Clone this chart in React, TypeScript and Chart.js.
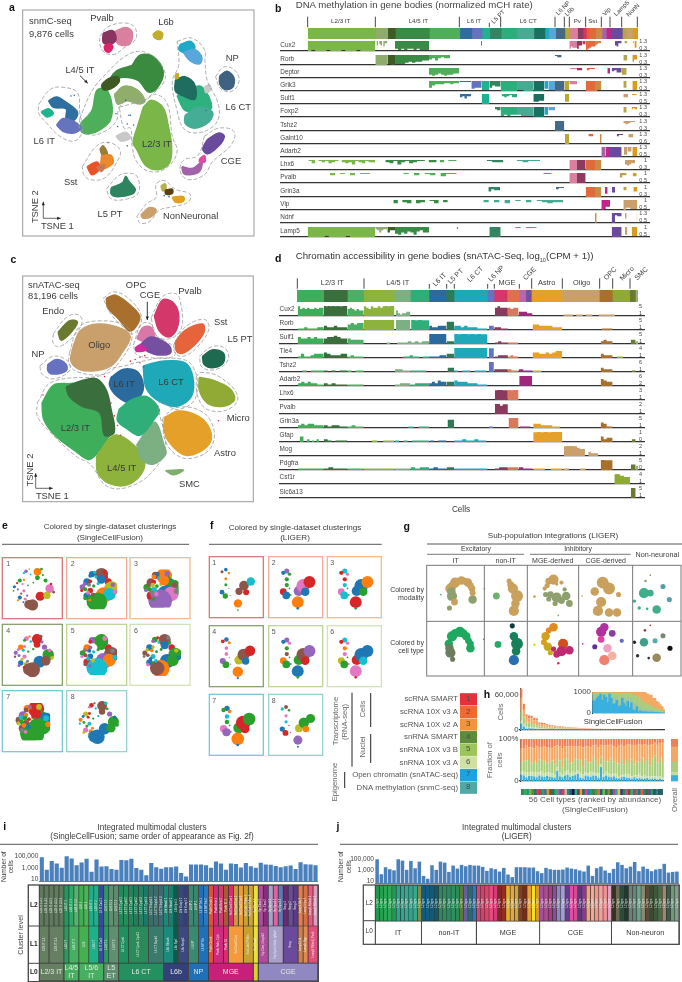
import React, { useEffect, useRef } from "react";
import { Chart, registerables } from "chart.js";
Chart.register(...registerables);
Chart.defaults.font.family = "Liberation Sans";
Chart.defaults.plugins.legend.display = false;
Chart.defaults.plugins.tooltip.enabled = false;

const FONT = "Liberation Sans";
type P = { l: number; t: number; w: number; h: number; cfg: any };
const plots: P[] = [];
const texts: any[] = [];
const lines: any[] = [];
const rects: any[] = [];
const base = { animation: false, responsive: false, devicePixelRatio: 1, events: [] as string[] };
const T = (s: any, x: number, y: number, size = 6.5, align = "c", rot = 0, color = "#3a3a3a", weight = 400) => texts.push({ s, x, y, size, align, rot, color, weight });
const L = (x1: number, y1: number, x2: number, y2: number, color = "#444", w = 1) => lines.push({ x1, y1, x2, y2, color, w });
const R = (x: number, y: number, w: number, h: number, color: string, sw = 1) => rects.push({ x, y, w, h, color, sw });
const fitY = (W: number) => (s: any) => { s.width = W; s.paddingTop = 0; s.paddingBottom = 0; };

/* ---------- panel a ---------- */
const blobsA: [string, number[][]][] = [
  ["#7ab648", [[430, 320], [455, 298], [492, 322], [508, 380], [518, 440], [512, 492], [480, 514], [438, 502], [410, 452], [398, 430], [412, 380]]],
  ["#4fae5a", [[235, 370], [270, 330], [285, 268], [312, 263], [332, 310], [327, 360], [300, 387], [265, 402], [238, 397]]],
  ["#3a8a3f", [[395, 190], [420, 158], [462, 163], [492, 210], [472, 262], [445, 272], [415, 237], [370, 227], [340, 234], [320, 247], [345, 208]]],
  ["#3e5a22", [[300, 250], [320, 232], [350, 225], [355, 240], [330, 262], [305, 265]]],
  ["#8fae6b", [[340, 280], [370, 255], [410, 265], [435, 300], [420, 310], [380, 300], [350, 310]]],
  ["#2f6f9f", [[135, 300], [160, 288], [190, 305], [225, 335], [215, 360], [190, 355], [190, 325], [150, 320]]],
  ["#1fb48f", [[112, 335], [135, 325], [150, 340], [130, 350]]],
  ["#6673bd", [[160, 375], [180, 355], [215, 365], [235, 385], [215, 400], [180, 395]]],
  ["#d9809f", [[340, 85], [375, 72], [395, 85], [390, 120], [365, 128], [345, 115]]],
  ["#8a3560", [[305, 90], [335, 82], [345, 110], [325, 125], [305, 118]]],
  ["#e0246a", [[308, 130], [325, 122], [335, 132], [325, 148], [312, 145]]],
  ["#c2ae2c", [[460, 92], [475, 83], [490, 90], [485, 108], [465, 104]]],
  ["#3e627f", [[668, 222], [690, 208], [712, 228], [708, 258], [685, 265], [668, 248]]],
  ["#1fa8c8", [[545, 125], [575, 115], [590, 130], [585, 145], [560, 150], [540, 140]]],
  ["#58a7db", [[555, 150], [590, 140], [612, 165], [605, 185], [575, 175]]],
  ["#2fb07f", [[535, 285], [580, 260], [610, 255], [635, 290], [640, 325], [590, 330], [560, 330]]],
  ["#1e6d5f", [[530, 235], [560, 225], [590, 250], [590, 295], [555, 285], [530, 270]]],
  ["#45ad96", [[560, 345], [600, 320], [645, 335], [635, 365], [590, 385], [560, 370]]],
  ["#c2ae2c", [[530, 218], [538, 215], [538, 230], [530, 230]]],
  ["#c8c8c8", [[620, 258], [635, 250], [640, 265], [625, 275]]],
  ["#6a4a9c", [[630, 420], [665, 400], [682, 410], [665, 440], [630, 465], [615, 450]]],
  ["#a263a8", [[550, 505], [585, 510], [612, 490], [605, 520], [575, 530], [555, 525]]],
  ["#e04aa0", [[605, 480], [620, 470], [622, 490], [605, 490]]],
  ["#9a7c3a", [[295, 450], [305, 440], [318, 465], [305, 475]]],
  ["#ea8a2c", [[300, 470], [330, 470], [335, 495], [300, 510]]],
  ["#e8532a", [[255, 505], [285, 490], [295, 510], [270, 530]]],
  ["#c87a55", [[285, 505], [310, 500], [300, 520]]],
  ["#2f8460", [[330, 570], [365, 555], [375, 535], [385, 550], [405, 575], [395, 590], [350, 598], [330, 590]]],
  ["#b8b048", [[485, 565], [498, 558], [500, 575], [490, 580]]],
  ["#5a4010", [[498, 578], [520, 575], [520, 588], [500, 590]]],
  ["#e0a020", [[520, 600], [555, 598], [555, 612], [530, 615]]],
  ["#c9a06c", [[422, 655], [450, 632], [470, 640], [455, 660], [430, 665]]],
  ["#c8c8c8", [[345, 410], [375, 398], [390, 415], [360, 425]]],
];
const hullsA: number[][][] = [
  [[295, 100], [320, 70], [375, 58], [405, 75], [405, 110], [370, 135], [340, 155], [310, 150], [295, 125]],
  [[232, 355], [270, 270], [310, 220], [385, 155], [440, 150], [490, 195], [495, 240], [445, 290], [430, 300], [390, 295], [355, 320], [345, 365], [300, 400], [260, 405], [232, 385]],
  [[355, 320], [440, 295], [470, 280], [505, 310], [520, 410], [535, 460], [500, 510], [450, 520], [410, 490], [395, 440], [390, 385], [370, 385]],
  [[105, 310], [140, 265], [180, 258], [225, 275], [232, 335], [240, 395], [215, 425], [170, 410], [130, 370], [105, 340]],
  [[535, 115], [580, 105], [620, 140], [622, 180], [630, 240], [660, 300], [665, 350], [640, 385], [590, 400], [555, 385], [535, 330], [520, 240], [540, 190]],
  [[655, 225], [680, 195], [715, 205], [728, 240], [705, 270], [670, 262]],
  [[620, 410], [665, 385], [712, 395], [705, 435], [645, 490], [620, 530], [570, 545], [545, 520], [555, 485], [600, 470]],
  [[240, 505], [285, 440], [325, 430], [358, 455], [345, 495], [310, 540], [265, 545], [245, 530]],
  [[315, 575], [350, 535], [380, 525], [410, 535], [415, 585], [380, 605], [330, 605]],
  [[410, 660], [440, 620], [470, 600], [470, 560], [495, 548], [530, 575], [575, 590], [570, 615], [520, 630], [480, 640], [450, 675], [420, 680]],
];
const specksA = [[205, 285], [215, 283], [375, 298], [385, 345], [380, 372], [400, 375], [350, 380], [390, 345], [345, 340], [320, 430], [380, 440], [495, 595], [510, 598], [625, 330]];

/* ---------- panel c ---------- */
const blobsC: [string, number[][]][] = [
  ["#c9a06c", [[210, 320], [235, 265], [290, 245], [365, 260], [390, 285], [360, 340], [330, 375], [280, 390], [230, 385], [205, 360]]],
  ["#a8702c", [[315, 165], [345, 155], [400, 195], [420, 225], [400, 262], [385, 265], [350, 225], [320, 195]]],
  ["#6a7a30", [[165, 270], [200, 235], [225, 238], [210, 265], [175, 295]]],
  ["#6672c0", [[133, 370], [160, 355], [190, 370], [190, 390], [150, 400], [133, 390]]],
  ["#d4386a", [[465, 220], [490, 170], [520, 175], [540, 210], [535, 260], [510, 285], [480, 265]]],
  ["#e5643c", [[530, 300], [560, 265], [615, 245], [620, 270], [590, 310], [555, 335], [535, 330]]],
  ["#d877a8", [[410, 290], [430, 255], [455, 255], [465, 290], [435, 300]]],
  ["#7550a0", [[420, 310], [455, 285], [510, 310], [515, 335], [470, 340], [435, 325]]],
  ["#d42aa0", [[405, 320], [420, 310], [440, 325], [410, 330]]],
  ["#1e6a50", [[615, 345], [645, 325], [680, 335], [680, 365], [650, 380], [620, 370]]],
  ["#90ab35", [[605, 410], [650, 420], [700, 445], [715, 480], [680, 500], [630, 490], [605, 450]]],
  ["#e5a029", [[497, 535], [540, 515], [600, 530], [635, 565], [640, 610], [600, 645], [555, 650], [510, 610], [495, 570]]],
  ["#7caf6a", [[500, 700], [555, 698], [525, 713]]],
  ["#1fa9b8", [[430, 375], [490, 360], [560, 365], [585, 410], [580, 470], [535, 500], [480, 485], [440, 445]]],
  ["#3fae5a", [[115, 490], [150, 435], [200, 430], [240, 430], [300, 480], [340, 560], [320, 600], [265, 665], [220, 640], [155, 590], [120, 540]]],
  ["#3a6e3c", [[190, 440], [240, 420], [285, 415], [315, 450], [330, 510], [340, 580], [310, 590], [295, 520], [240, 500], [200, 470]]],
  ["#2b6a9c", [[330, 410], [370, 385], [415, 395], [430, 450], [395, 490], [350, 470], [325, 435]]],
  ["#8db33c", [[285, 655], [340, 590], [400, 620], [435, 680], [400, 735], [340, 745], [290, 710]]],
  ["#7caf82", [[410, 620], [465, 550], [495, 620], [500, 650], [460, 680], [425, 665]]],
  ["#2fae7a", [[355, 510], [395, 480], [440, 470], [480, 510], [465, 540], [420, 590], [380, 570], [350, 545]]],
];
const hullsC: number[][][] = [
  [[150, 275], [190, 225], [225, 215], [240, 235], [220, 275], [170, 315], [150, 305]],
  [[305, 165], [340, 145], [390, 170], [425, 225], [400, 275], [370, 255], [330, 215]],
  [[200, 335], [230, 255], [290, 235], [375, 250], [395, 290], [350, 370], [310, 400], [230, 395], [200, 370]],
  [[108, 375], [150, 345], [195, 360], [200, 390], [150, 415], [115, 400]],
  [[400, 310], [425, 245], [455, 245], [475, 285], [525, 315], [525, 345], [460, 350], [410, 340]],
  [[455, 225], [490, 160], [530, 150], [545, 170], [550, 255], [515, 290], [470, 280]],
  [[525, 310], [560, 255], [620, 230], [635, 260], [595, 320], [555, 345], [530, 335]],
  [[605, 345], [645, 315], [685, 320], [695, 355], [660, 385], [615, 380]],
  [[595, 410], [610, 395], [670, 410], [725, 470], [695, 510], [630, 510], [600, 470]],
  [[490, 540], [530, 505], [610, 515], [650, 570], [640, 630], [590, 660], [540, 655], [500, 610]],
  [[100, 490], [145, 425], [300, 405], [325, 385], [370, 375], [430, 360], [500, 350], [580, 370], [595, 470], [540, 510], [480, 490], [500, 620], [470, 690], [400, 745], [320, 750], [265, 680], [220, 655], [130, 570], [100, 530]],
];
const specksC = [[405, 355], [420, 348], [435, 343], [390, 360], [310, 408], [118, 465], [420, 365], [432, 378], [665, 545], [340, 530], [350, 560], [360, 590], [330, 490]];

function blobChart(l: number, t: number, w: number, h: number, xr: number[], yr: number[], blobs: any[], hulls: number[][][], specks: number[][], speckColor: string) {
  const close = (p: number[][]) => [...p, p[0]].map(([x, y]) => ({ x, y }));
  const ds: any[] = [];
  blobs.forEach(([c, p]: any) => ds.push({ data: close(p), fill: "shape", backgroundColor: c, borderColor: c, borderWidth: 1.5, tension: 0.35, pointRadius: 0 }));
  ds.push({ data: specks.map(([x, y]) => ({ x, y })), showLine: false, pointRadius: 0.8, pointBackgroundColor: speckColor, pointBorderWidth: 0 });
  hulls.forEach((p) => ds.push({ data: close(p), fill: false, borderColor: "#9a9a9a", borderWidth: 0.8, borderDash: [4, 2], tension: 0.4, pointRadius: 0 }));
  plots.push({ l, t, w, h, cfg: { type: "line", data: { datasets: ds.reverse() }, options: { ...base, layout: { padding: 0 }, scales: { x: { type: "linear", min: xr[0], max: xr[1], display: false }, y: { type: "linear", min: yr[0], max: yr[1], reverse: true, display: false } } } } });
}
blobChart(23, 10, 231, 226, [68, 762], [30, 708], blobsA, hullsA, specksA, "#2f6f9f");
R(22.7, 10, 231.3, 226, "#9a9a9a", 1);
blobChart(23, 276, 230, 226, [68, 760], [108, 785], blobsC, hullsC, specksC, "#d8304a");
R(22.7, 276, 230.6, 225.7, "#9a9a9a", 1);

/* ---------- strips & tracks ---------- */
const stripB: [number, number, string][] = [
  [113, 316, "#7ab648"], [316, 352, "#8fac6e"], [352, 375, "#3f5b24"], [375, 477, "#388a45"], [477, 568, "#4fae57"], [568, 604, "#2f6d9e"], [604, 635, "#6473bb"], [635, 658, "#1fb28f"], [658, 692, "#358461"], [692, 741, "#2bae7c"], [741, 790, "#46ab92"], [790, 823, "#1c6e60"], [823, 835, "#1fa8c4"], [835, 855, "#57a7d8"], [855, 883, "#446a85"], [883, 898, "#b8a832"], [898, 921, "#d97fa0"], [921, 937, "#8d3a60"], [937, 947, "#d6336c"], [947, 955, "#f05a30"], [955, 975, "#e06a3c"], [975, 994, "#c98c46"], [994, 1007, "#a263a8"], [1007, 1020, "#c2258a"], [1020, 1055, "#6a4a9c"], [1055, 1067, "#b8a24a"], [1067, 1085, "#c9a06c"], [1085, 1102, "#d99a20"],
];
const stripD: [number, number, string][] = [
  [82, 162, "#3fae5a"], [162, 233, "#3a6e3c"], [233, 282, "#4bb063"], [282, 374, "#8db33c"], [374, 422, "#7caf82"], [422, 478, "#2fae7a"], [478, 530, "#2b6a9c"], [530, 553, "#2e7a55"], [553, 653, "#1fa9b8"], [653, 673, "#6672c0"], [673, 712, "#d4386a"], [712, 748, "#e0704d"], [748, 768, "#b868a8"], [768, 785, "#7550a0"], [785, 877, "#e5a029"], [877, 989, "#c9a06c"], [989, 1028, "#a8702c"], [1028, 1080, "#90ab35"], [1080, 1097, "#6a7a30"], [1097, 1105, "#9aae7a"],
];
const trackColorsD: [number, number, string][] = [
  ...stripD.slice(0, 10), [673, 714, "#8a3a5c"], [714, 746, "#d9785a"], [746, 788, "#a0287a"], [788, 877, "#e5a029"], ...stripD.slice(15),
];

const genesB = ["Cux2", "Rorb", "Deptor", "Grik3", "Sulf1", "Foxp2", "Tshz2", "Galnt10", "Adarb2", "Lhx6", "Pvalb", "Grin3a", "Vip", "Ndnf", "Lamp5"];
const rangeB = [[1.3, 0.3], [1.3, 0.3], [1.3, 0.3], [1.3, 0.3], [1.3, 0.5], [1.3, 0.3], [1.3, 0.3], [1.3, 0.6], [1.3, 0.5], [1, 0.3], [1, 0.5], [1, 0.3], [1, 0.5], [1.3, 0.5], [1, 0.5]];
const baselinesB = [50.7, 64, 77.3, 90.7, 103.7, 116.7, 130, 143.3, 156.3, 169.3, 182.7, 196, 209.3, 222.7, 236];
const tracksB: any[] = [
  [[113, 316, [8, 9, 8, 9, 9, 9, 8, 9, 9, 9, 8, 9, 9, 9, 8, 9, 9, 9]], [316, 352, [5, 0, 4, 0, 3, 4, 0, 5, 2]], [375, 477, [8, 7, 8, 7, 8, 7, 7, 8, 7, 8, 8]], [898, 921, [6, 7, 5, 6, 6]], [921, 937, [4, 7, 4]], [937, 947, [7, 3]], [947, 975, [7, 8, 7, 6, 5]], [975, 994, [7, 4, 3, 2]], [1035, 1055, [3, 4, 5, 2]], [1060, 1072, [3, 0, 2]], [1088, 1100, [3, 2, 0, 6]], [633, 636, [4]]],
  [[316, 352, [9, 9, 9, 9]], [352, 375, [9, 8, 8, 9]], [375, 477, [9, 8, 8, 8, 7, 6, 7, 6, 6, 5]], [477, 540, [5, 4, 3, 5, 3, 2, 3]], [855, 875, [3, 1, 2]], [1060, 1072, [5, 5]], [1087, 1102, [6, 6, 4]]],
  [[477, 568, [6, 6, 7, 6, 5, 6, 7, 6, 6, 5]], [900, 921, [1, 1, 1]], [921, 937, [3, 2]], [950, 975, [1, 2, 1]], [1012, 1020, [5]], [1025, 1055, [3, 3, 2, 4]], [1055, 1070, [3, 6]]],
  [[477, 568, [9, 6, 4, 3, 3, 3, 2, 2, 3, 2]], [568, 604, [2, 1]], [604, 635, [8, 7, 6]], [635, 658, [7, 8]], [658, 692, [8, 6, 4, 5]], [692, 741, [9, 9, 9, 9]], [741, 790, [8, 8, 8, 9, 9]], [790, 823, [9, 9, 9]], [823, 835, [7]], [835, 855, [8, 8]], [855, 883, [9, 9]], [883, 898, [9, 8]], [898, 921, [5, 3, 3]], [947, 975, [9, 9, 9, 9]], [975, 994, [9, 9, 8]], [1060, 1070, [6]], [1087, 1102, [7, 8, 8]]],
  [[570, 604, [2, 3, 2, 4, 2]], [635, 658, [9, 9, 9]], [695, 741, [2, 2, 3, 2, 1, 3]], [790, 823, [6, 7, 7, 6]], [885, 898, [6, 7]], [1060, 1075, [5, 3]], [1085, 1100, [1, 1, 1]]],
  [[675, 692, [1, 2, 3]], [692, 741, [8, 8, 7, 8, 7]], [741, 790, [8, 7, 8, 8]], [790, 823, [9, 9, 9]], [823, 835, [7]], [835, 855, [4, 3]], [1060, 1070, [5, 5]], [1085, 1102, [1, 2, 1, 2]]],
  [[855, 883, [9, 9, 9]], [1060, 1095, [3, 2, 3, 2, 1]]],
  [[885, 898, [9, 9]], [955, 970, [4, 2]], [990, 995, [8]], [1040, 1060, [1, 2, 1]], [1075, 1090, [2, 3]]],
  [[994, 1007, [9, 9]], [1007, 1020, [9, 9]], [1020, 1055, [9, 9, 9, 9]], [1062, 1072, [8, 7]], [1072, 1085, [5, 4]], [1087, 1102, [8, 8]]],
  [[115, 316, [2, 1, 3, 0, 1, 2, 1, 3, 2, 1, 0, 2, 3, 2, 4, 1, 2, 3, 1, 2]], [335, 500, [1, 0, 2, 3, 1, 4, 2, 1, 3, 2, 1, 1, 0, 2]], [510, 560, [1, 2, 0, 1]], [650, 700, [3, 1, 2]], [740, 810, [1, 1, 2, 1]], [898, 921, [9, 9, 9]], [921, 947, [9, 9]], [947, 975, [9, 9, 9]], [975, 994, [9, 9]], [1065, 1095, [3, 4, 5, 4, 3]]],
  [[180, 300, [0, 2, 0, 1, 0, 2, 0, 1]], [400, 560, [0, 1, 0, 2, 0, 1, 2, 0, 3, 1]], [820, 845, [2, 1]], [898, 921, [9, 9, 9]], [921, 947, [9, 9]], [1050, 1070, [3, 4, 2]], [1088, 1100, [4, 3]]],
  [[655, 690, [3, 4, 2, 3]], [858, 882, [1, 2, 1]], [947, 975, [9, 9, 9]], [975, 994, [9, 9]], [1005, 1013, [6]], [1026, 1035, [5]], [1060, 1070, [3]], [1090, 1102, [3, 4]]],
  [[370, 560, [0, 3, 0, 2, 3, 0, 3, 2, 0, 1, 3, 0, 2, 0]], [640, 880, [0, 2, 0, 2, 0, 3, 0, 1, 0, 2, 0, 1, 2, 3, 2]], [994, 1020, [9, 9, 8, 6]], [1060, 1102, [8, 9, 7, 7, 8, 8]]],
  [[975, 980, [9]], [1025, 1035, [9]], [1035, 1055, [5, 2, 3]], [1065, 1070, [5]], [1100, 1102, [9]]],
  [[113, 316, [9, 9, 9, 9, 9, 8, 9, 9, 9, 9, 8, 9, 9, 9, 9, 9]], [316, 352, [4, 2, 3, 5, 3, 2]], [352, 375, [4, 5, 3]], [375, 477, [5, 6, 7, 5, 6, 4, 5, 7, 4, 3, 5]], [658, 692, [9, 9, 9, 9]], [1025, 1055, [9, 9, 9]], [1065, 1072, [7]], [1085, 1102, [7, 8, 8]], [560, 565, [2]], [720, 800, [1, 0, 1, 0, 1]]],
];
const genesD = ["Cux2", "Rorb", "Sulf1", "Tle4", "Tshz2", "Adarb2", "Lhx6", "Pvalb", "Grin3a", "Gfap", "Mog", "Pdgfra", "Csf1r", "Slc6a13"];
const rangeD = [[5, 1], [5, 1], [5, 1], [4, 1], [6, 1], [6, 2], [3, 1], [2, 1], [5, 1], [1, 0], [2, 1], [5, 0], [4, 1], [5, 1]];
const baselinesD = [316, 330, 344, 358, 372, 386, 400, 414, 428, 442, 456, 470, 484, 498.3];
const tracksD: any[] = [
  [[84, 162, [6, 7, 5, 6, 5, 6, 5, 5, 6, 5, 6]], [162, 233, [7, 8, 7, 8, 7, 8, 7, 8, 7, 7, 8]], [233, 282, [6, 5, 6, 5, 4, 5, 4]], [282, 374, [6, 7, 6, 5, 7, 6, 6, 7, 6, 7, 8, 7, 8]], [378, 422, [3, 4, 2, 1, 2, 2, 3]], [675, 714, [7, 6, 7, 6, 6]], [714, 746, [6, 6, 5, 6]], [746, 788, [4, 3, 3, 3, 2]], [880, 1035, [1, 1, 1, 1, 0, 1, 1, 0, 1, 1, 0, 0, 1, 1, 1, 1]]],
  [[84, 162, [1, 1, 1, 2, 1, 1, 1, 2]], [162, 233, [2, 3, 2, 2, 3, 2, 2]], [233, 282, [5, 4, 5, 4, 5]], [282, 374, [9, 9, 9, 9, 9, 8, 9, 9]], [378, 422, [9, 8, 9, 9, 8]], [424, 478, [8, 8, 7, 8, 7]], [478, 530, [3, 3, 2, 2, 3, 3]], [530, 553, [5, 6]], [553, 653, [4, 3, 3, 2, 3, 2, 2, 2, 1, 1]], [657, 672, [4, 3]], [673, 714, [3, 2, 2, 1]], [788, 877, [5, 4, 4, 3, 3, 3, 3, 2, 2]], [995, 1028, [1, 1, 1]]],
  [[84, 162, [5, 5, 4, 4, 5, 4, 5, 4]], [162, 233, [4, 4, 5, 5, 6, 5, 4]], [233, 282, [3, 4, 3, 3, 3]], [350, 478, [0, 1, 0, 0, 1, 1, 1, 2, 1, 2, 1, 2]], [478, 530, [9, 9, 8, 9, 8, 9]], [530, 553, [3, 2]], [553, 653, [9, 8, 7, 8, 8, 7, 8, 7, 8, 7]], [675, 714, [2, 1, 2, 1]], [714, 745, [2, 1, 1]], [992, 1028, [3, 2, 3, 2]], [1082, 1097, [5, 3]], [1097, 1105, [2]]],
  [[84, 162, [3, 1, 3, 1, 1, 2, 3, 3]], [162, 233, [3, 4, 3, 2, 2, 2, 3]], [233, 282, [2, 1, 2, 1, 1]], [400, 478, [0, 1, 1, 2, 1, 1, 0, 1]], [478, 530, [0, 1, 1, 1, 2]], [530, 553, [3, 3]], [553, 653, [9, 9, 8, 8, 9, 8, 8, 9, 8, 9]], [657, 672, [9, 7]], [675, 714, [3, 1, 2, 2]], [714, 746, [2, 1, 2, 1]], [788, 877, [5, 4, 4, 3, 3, 4, 3, 4, 5]], [992, 1028, [4, 3, 2, 2]], [1040, 1060, [1, 1]]],
  [[85, 162, [1, 0, 1, 0, 1, 1]], [162, 233, [0, 1, 0, 1, 0, 1]], [233, 282, [1, 1, 0, 1]], [375, 422, [1, 2, 2, 1]], [422, 470, [2, 1, 1]], [533, 553, [4, 3]], [553, 650, [1, 1, 0, 1, 1, 0, 1, 1]], [657, 672, [9, 9]], [673, 714, [3, 2, 2, 2]], [714, 746, [2, 2, 1]], [746, 788, [1, 2, 1]], [788, 815, [1, 1]], [992, 1028, [3, 3, 2, 2]], [1085, 1097, [1, 1]]],
  [[85, 162, [2, 2, 3, 2, 3, 2, 2, 1]], [162, 233, [1, 2, 1, 2, 1, 1]], [233, 282, [1, 1, 1]], [375, 422, [1, 1, 2]], [422, 478, [1, 1, 2, 2]], [478, 530, [3, 2, 3, 2, 4, 3]], [530, 553, [3, 3]], [553, 653, [3, 4, 3, 3, 3, 2, 2, 2, 1, 1]], [748, 787, [9, 9, 9, 9]], [992, 1028, [6, 5, 4, 3]]],
  [[675, 714, [9, 7, 8, 8, 7]], [714, 746, [9, 8, 7, 9]]],
  [[675, 714, [9, 8, 8, 6, 7]]],
  [[85, 162, [3, 2, 3, 2, 3, 3, 2, 2]], [162, 233, [1, 2, 1, 2, 2, 1]], [233, 282, [2, 1, 2, 1]], [400, 478, [1, 0, 1, 0, 1]], [533, 553, [5, 6]], [657, 670, [1]], [716, 746, [9, 9, 9]], [750, 782, [2, 1, 1]], [790, 870, [4, 3, 3, 2, 2, 2, 1]], [992, 1028, [5, 4, 3, 1]]],
  [[90, 102, [4]], [105, 162, [1, 0, 2, 0, 1, 0, 2, 0]], [162, 233, [3, 2, 1, 0, 1, 1]], [290, 374, [1, 0, 1, 0, 1]], [375, 478, [0, 1, 0, 1, 0, 1, 1, 1]], [480, 530, [2, 1, 0, 1]], [553, 650, [1, 1, 1, 2, 1, 1, 2, 1]], [790, 877, [9, 7, 8, 7, 8, 7, 8, 9]], [992, 1028, [5, 4, 2, 3]], [1085, 1097, [1, 2]]],
  [[882, 945, [6, 7, 9, 8, 9, 7, 6, 5]], [955, 985, [2, 3, 2, 2]]],
  [[85, 162, [1, 1, 1, 1, 1, 1]], [162, 233, [1, 1, 2, 1, 1]], [233, 282, [1, 1, 1]], [282, 374, [1, 1, 1, 1, 1]], [374, 422, [1, 1, 1]], [422, 478, [1, 2, 1, 2]], [478, 530, [2, 1, 2, 1]], [530, 553, [2, 2]], [553, 653, [1, 1, 1, 1, 1]], [675, 714, [1, 1, 2]], [714, 746, [1, 2]], [746, 788, [2, 2, 1]], [790, 877, [1, 1, 1, 0, 1]], [880, 980, [0, 1, 0, 0, 1, 0]], [992, 1028, [8, 8, 7]], [1083, 1097, [4, 4]], [1097, 1105, [3]]],
  [[1033, 1080, [4, 7, 8, 7, 6, 6, 5, 5]]],
  [[1083, 1097, [9, 8]]],
];

const colorAt = (segs: any[], x: number) => {
  const s = segs.find((g) => x >= g[0] && x < g[1]);
  return s ? s[2] : "#888";
};

function track(g: string, hi: number, lo: number, runs: any[], baseline: number, mode: "down" | "up", segs: any[], left: number, width: number, xr: number[], areaH: number) {
  const pt = 3, pb = 2;
  const axisMin = lo - (hi - lo) * 0.27;
  const val = (d: number) => (mode === "down" ? hi - (d / 9) * (hi - axisMin) : axisMin + (d / 7.2) * (hi - axisMin));
  const ds = runs.map(([x0, x1, hs]: any) => {
    const step = (x1 - x0) / hs.length;
    const pts = hs.map((h: number, i: number) => ({ x: x0 + i * step, y: val(h) }));
    pts.push({ x: x1, y: val(hs[hs.length - 1]) });
    const c = colorAt(segs, (x0 + x1) / 2);
    return { data: pts, stepped: "after", fill: mode === "down" ? "end" : "start", backgroundColor: c, borderColor: c, borderWidth: 0, pointRadius: 0 };
  });
  plots.push({
    l: left, t: baseline - areaH - pt, w: width, h: areaH + pt + pb,
    cfg: {
      type: "line", data: { datasets: ds },
      options: {
        ...base, layout: { padding: { top: pt, bottom: pb, left: 0, right: 0 } },
        scales: {
          x: { type: "linear", min: xr[0], max: xr[1], grid: { display: false, drawTicks: false }, ticks: { display: false }, border: { color: "#333", width: 1.3 }, afterFit: (s: any) => { s.height = 0; } },
          y: { type: "linear", position: "right", min: axisMin, max: hi, grid: { display: false, drawTicks: false }, border: { display: false }, afterBuildTicks: (s: any) => { s.ticks = [{ value: lo }, { value: hi }]; }, afterFit: fitY(0), ticks: { mirror: true, padding: -3, font: { size: 5.5 }, color: "#444", autoSkip: false, callback: (v: number) => String(v) } },
        },
      },
    },
  });
  T(g, left + 0.3, baseline - (mode === "down" ? 5 : 6.3), 6.4, "l", 0, "#444");
}

const labelPlugin = {
  id: "segLabels",
  afterDatasetsDraw(chart: any) {
    const ctx = chart.ctx;
    chart.data.datasets.forEach((d: any, i: number) => {
      if (!d.txt) return;
      const el = chart.getDatasetMeta(i).data[0];
      ctx.save();
      ctx.translate((el.x + el.base) / 2, el.y);
      ctx.rotate(((d.txtRot || 0) * Math.PI) / 180);
      ctx.font = `${d.txtSize || 6}px ${FONT}`;
      ctx.fillStyle = d.txtColor || "#fff";
      ctx.textAlign = "center";
      ctx.textBaseline = "middle";
      const parts = String(d.txt).split("\n");
      parts.forEach((s, k) => ctx.fillText(s, 0, (k - (parts.length - 1) / 2) * (d.txtSize || 6) * 1.05));
      ctx.restore();
    });
  },
};

function strip(l: number, t: number, w: number, h: number, xr: number[], segs: any[], border = 0, borderColor = "#333") {
  plots.push({
    l, t, w, h,
    cfg: {
      type: "bar",
      data: {
        labels: ["row"],
        datasets: segs.map((s: any) => ({ data: [[s[0], s[1]]], backgroundColor: s[2], borderWidth: border, borderColor, borderSkipped: false, barPercentage: 1, categoryPercentage: 1, grouped: false, txt: s[3], txtSize: s[4], txtRot: s[5], txtColor: s[6] })),
      },
      options: { ...base, indexAxis: "y", layout: { padding: 0 }, scales: { x: { type: "linear", min: xr[0], max: xr[1], display: false }, y: { type: "category", display: false } } },
      plugins: [labelPlugin],
    },
  });
}
const spans = (items: any[]) => {
  let c = 0;
  return items.map(([n, color, ...rest]: any) => { const s = [c, c + n, color, ...rest]; c += n; return s; });
};

strip(307.7, 27.7, 329.7, 10.7, [113, 1102], stripB);
genesB.forEach((g, i) => track(g, rangeB[i][0], rangeB[i][1], tracksB[i], baselinesB[i], "down", stripB, 280, 370, [30, 1140], 9.5));
strip(297.3, 290, 341, 12, [82, 1105], stripD);
genesD.forEach((g, i) => track(g, rangeD[i][0], rangeD[i][1], tracksD[i], baselinesD[i], "up", trackColorsD, 279.3, 365.7, [28, 1125], 10));

const tickB = [113, 316, 568, 692, 855, 883, 898, 947, 994, 1020, 1055, 1102];
tickB.forEach((x) => L(270 + x / 3, 16.7, 270 + x / 3, 27.3, "#333", 0.9));
L(270 + 658 / 3, 22.7, 270 + 658 / 3, 27.3, "#333", 0.9);
[["L2/3 IT", 340.7], ["L4/5 IT", 418.3], ["L6 IT", 474], ["L6 CT", 528.3], ["Pv", 577.3], ["Sst", 592.7]].forEach(([s, x]: any) => T(s, x, 20.7, 6.2));
[["L5 PT", 498.3, 16.7], ["L6 NP", 563, 8], ["L6b", 569.5, 11.5], ["Vip", 606.7, 11.7], ["Lamp5", 621.7, 8.3], ["NonN", 633, 10]].forEach(([s, x, y]: any) => T(s, x, y, 6.2, "c", -45));
[82, 282, 785, 877, 989, 1028, 1080].forEach((x) => L(270 + x / 3, 278.3, 270 + x / 3, 288.7, "#333", 0.9));
[478, 530, 553, 653, 673, 748].forEach((x) => L(270 + x / 3, 284, 270 + x / 3, 288.7, "#333", 0.9));
[["L2/3 IT", 332.3], ["L4/5 IT", 397.7], ["MGE", 507], ["Astro", 546.7], ["Oligo", 581.7]].forEach(([s, x]: any) => T(s, x, 282.7, 7.4));
[["L6 IT", 439.3, 279.3], ["L5 PT", 455.3, 276], ["L6 CT", 475, 274], ["L6 NP", 496, 273.3], ["CGE", 529.3, 273.3], ["OPC", 610, 273.3], ["Micro", 626.7, 273.3], ["SMC", 641, 273.3]].forEach(([s, x, y]: any) => T(s, x, y, 7, "c", -45));

/* ---------- panels e / f ---------- */
const tab = ["#1f77b4", "#ff7f0e", "#2ca02c", "#d62728", "#9467bd", "#8c564b", "#e377c2", "#7f7f7f", "#bcbd22", "#17becf"];
const layoutE = [[110, 30, 8.5], [68, 28, 4], [85, 40, 2], [140, 62, 4.5], [155, 92, 9.5], [120, 120, 10], [145, 117, 8], [92, 152, 12.5], [45, 62, 4.5], [25, 85, 3.5], [60, 100, 3.5], [45, 125, 4.5], [65, 130, 3.5], [38, 95, 2.5], [95, 70, 2], [75, 80, 2], [60, 60, 2.5], [130, 42, 2.5], [110, 52, 5.5], [78, 150, 10],
  [35, 72, 2.5], [55, 75, 2.5], [22, 100, 2], [50, 110, 2.5], [38, 135, 2.5], [72, 118, 2.5], [58, 142, 2], [80, 20, 2], [60, 35, 2.5], [125, 20, 3], [160, 75, 3], [170, 105, 3]];
const sizesE = [0.45, 0.78, 0.92, 0.6, 0.8, 0.72, 0.95, 0.58];
const colorsE = [
  [1, 4, 9, 2, 6, 3, 8, 5, 2, 0, 6, 0, 6, 4, 2, 2, 1, 2, 2, 5],
  [5, 0, 9, 3, 8, 1, 9, 2, 0, 4, 3, 0, 1, 2, 9, 2, 3, 3, 0, 2],
  [1, 5, 9, 0, 2, 0, 6, 4, 5, 2, 9, 3, 0, 2, 8, 2, 3, 2, 1, 4],
  [3, 6, 9, 4, 2, 0, 5, 5, 1, 4, 6, 0, 8, 4, 2, 2, 6, 4, 3, 5],
  [2, 4, 2, 3, 5, 4, 1, 9, 1, 2, 0, 3, 0, 5, 2, 9, 4, 2, 2, 9],
  [5, 2, 9, 3, 2, 0, 2, 1, 0, 5, 9, 0, 2, 5, 2, 2, 8, 2, 0, 5],
  [3, 1, 3, 2, 0, 2, 2, 2, 4, 5, 5, 5, 4, 2, 2, 3, 1, 2, 3, 2],
  [5, 3, 9, 4, 2, 0, 2, 0, 8, 1, 9, 6, 1, 2, 9, 2, 3, 2, 5, 0],
];
const extrasE = [3, 6, 2, 5, 1, 4, 0, 8, 9, 2, 3, 5];
const layoutF = [[44, 28, 3], [30, 35, 2.5], [55, 40, 2], [44, 60, 2.5], [44, 82, 2.5], [30, 108, 4], [42, 122, 4.5], [60, 120, 1], [92, 105, 6], [110, 85, 8], [135, 70, 7], [118, 108, 5], [88, 148, 7], [88, 172, 1.5], [55, 95, 1]];
const sizesF = [0.6, 0.85, 0.85, 0.75, 0.85, 0.85, 0.9, 0.65];
const colorsF = [
  [0, 5, 1, 1, 2, 0, 2, 4, 5, 5, 9, 3, 1, 2, 4],
  [4, 0, 2, 2, 2, 3, 0, 2, 4, 6, 3, 0, 1, 0, 2],
  [9, 3, 6, 3, 9, 6, 9, 2, 0, 0, 1, 2, 3, 2, 2],
  [0, 3, 1, 6, 6, 4, 2, 6, 8, 5, 3, 0, 1, 0, 6],
  [4, 0, 6, 2, 5, 1, 2, 0, 2, 5, 4, 3, 0, 2, 2],
  [9, 3, 6, 1, 6, 8, 2, 4, 3, 0, 0, 9, 6, 3, 2],
  [0, 2, 1, 9, 2, 6, 4, 4, 2, 3, 2, 3, 1, 0, 2],
  [5, 9, 2, 6, 9, 0, 3, 4, 8, 2, 2, 1, 4, 0, 3],
];
const frameColors = ["#d36e70", "#f0a58f", "#f5b47d", "#7f9b60", "#b8d08e", "#cfe0b0", "#6cc5d6", "#8fcfc9"];
function bubbles(l: number, t: number, w: number, h: number, xr: number[], yr: number[], layout: number[][], colors: string[], k: number, extra: any = {}) {
  plots.push({
    l, t, w, h,
    cfg: {
      type: "bubble",
      data: { datasets: [{ data: layout.map(([x, y, r]) => ({ x, y, r: r * k })), backgroundColor: colors, borderWidth: 0 }] },
      options: { ...base, layout: { padding: 0 }, scales: { x: { type: "linear", min: xr[0], max: xr[1], display: false, ...extra.x }, y: { type: "linear", min: yr[0], max: yr[1], reverse: true, display: false, ...extra.y } } },
    },
  });
}
const framesE = [[2.3, 557.7], [66.7, 557.7], [130, 557.7], [2.3, 624.3], [66.7, 624.3], [130, 624.3], [2.3, 690.7], [66.7, 690.7]];
framesE.forEach(([x, y], i) => {
  const colors = [...colorsE[i], ...extrasE.map((c) => (c + i) % 10)].map((c) => tab[c]);
  bubbles(x, y, 60, 61, [0, 180], [0, 183], layoutE, colors, sizesE[i]);
  R(x, y, 60, 61, frameColors[i], 1.2);
  T(String(i + 1), x + 6, y + 6, 7, "c", 0, "#555");
});
const framesF = [[209.3, 556.7], [268.7, 556.7], [327.3, 556.7], [209.3, 625.7], [268.7, 625.7], [327.3, 625.7], [209.3, 694.3], [268.7, 694.3]];
framesF.forEach(([x, y], i) => {
  bubbles(x, y, 54, 61, [0, 162], [0, 183], layoutF, colorsF[i].map((c) => tab[c]), sizesF[i]);
  R(x, y, 54, 61, frameColors[i], 1.2);
  T(String(i + 1), x + 5, y + 6, 7, "c", 0, "#555");
});

/* ---------- panel g ---------- */
const tanG = "#c9a05c", oliveG = "#8fa070", tealG = "#3fae8a", blueG = "#55a0a8";
const blobsG: [number, number, number, string][] = [
  [315, 225, 6, tanG], [330, 205, 6, tanG], [350, 198, 5, tanG], [370, 205, 5, tanG], [383, 225, 4, tanG], [385, 262, 5, oliveG], [320, 250, 6, oliveG], [328, 270, 4, tanG], [312, 290, 3, oliveG], [285, 245, 1, blueG], [422, 225, 1, oliveG], [322, 215, 5, tanG], [360, 200, 4, tanG], [378, 215, 4, tanG], [385, 240, 3.5, tanG], [318, 235, 5, oliveG],
  [500, 200, 3, tanG], [512, 225, 6, tanG], [525, 250, 7, tanG], [520, 275, 5, tanG], [515, 300, 6, tanG], [460, 250, 4, "#6fb06f"], [505, 212, 4, tanG], [518, 288, 4, tanG],
  [640, 195, 6, tanG], [620, 215, 3, tanG], [650, 210, 2, tanG], [680, 250, 5, oliveG], [650, 255, 6, oliveG], [630, 245, 4, oliveG], [690, 275, 4, oliveG], [655, 315, 1, oliveG], [580, 252, 1.5, tanG], [625, 200, 4, tanG], [612, 225, 2.5, tanG], [615, 245, 3, oliveG], [625, 260, 3, oliveG], [665, 205, 2.5, tanG], [675, 228, 2.5, oliveG], [665, 265, 4, oliveG], [645, 275, 3, oliveG],
  [795, 205, 7, tanG], [770, 235, 5, tanG], [815, 225, 7, tanG], [845, 245, 3, tanG], [790, 270, 6, tanG], [780, 300, 6, tanG], [815, 305, 5, tanG], [840, 305, 5, tanG], [730, 250, 1, tanG],
  [925, 240, 6, tealG], [945, 240, 4, tealG], [985, 218, 3, blueG], [965, 295, 5, tealG], [1005, 262, 3, blueG], [895, 267, 2, tealG], [910, 290, 2, tealG], [935, 293, 1.5, tealG], [930, 200, 1.5, oliveG], [945, 180, 1, oliveG],
  [320, 385, 6, "#1fa860"], [345, 370, 6, "#1fa860"], [365, 385, 5, "#1fa860"], [378, 425, 5, "#1fa860"], [310, 410, 5, "#1fa860"], [315, 440, 6, "#6b7d5f"], [322, 462, 3, "#6b7d5f"], [420, 395, 1, "#1fa860"], [330, 375, 5, "#1fa860"], [355, 375, 5, "#1fa860"], [372, 400, 4, "#1fa860"], [378, 410, 4, "#1fa860"], [312, 425, 5, "#6b7d5f"],
  [510, 350, 3, "#113a3a"], [515, 385, 5, "#17805a"], [525, 410, 7, "#17805a"], [522, 435, 5, "#17805a"], [515, 465, 6, "#2a70b0"], [465, 412, 4, "#22aa66"],
  [640, 355, 5, "#e08a20"], [615, 385, 5, "#d4a020"], [622, 420, 5, "#c8a820"], [670, 410, 6, "#d05020"], [665, 435, 6, "#c02a70"], [690, 432, 5, "#c02a70"], [640, 428, 3, "#c42a70"], [655, 475, 1.5, "#e0246a"], [580, 413, 1.5, "#e8d020"], [625, 365, 3.5, "#e08a20"], [610, 405, 3.5, "#d4a020"], [630, 440, 3, "#c8a820"], [650, 445, 4, "#c02a70"],
  [800, 355, 5, "#b030a0"], [790, 370, 6, "#b030a0"], [825, 375, 4, "#8a3fa0"], [855, 400, 2.5, "#6a6ac0"], [790, 395, 4, "#e040a0"], [770, 420, 3, "#6030a0"], [810, 425, 5, "#f0a0c0"], [800, 465, 6, "#f08070"], [825, 450, 5, "#f4b0a0"], [732, 410, 1, "#a040a0"],
  [925, 405, 5, "#3fa08a"], [960, 400, 3, "#55aaaa"], [985, 383, 3, "#778877"], [965, 457, 5, "#9a8a5a"], [1007, 425, 3, "#111111"], [895, 405, 2, "#222222"], [905, 450, 2, "#333333"], [940, 458, 1.5, "#333333"], [928, 365, 1.5, "#884444"], [945, 348, 1, "#884444"],
];
const cutsGx = [433, 562, 716, 878];
const cutGy = 334;
bubbles(426.7, 565.3, 254.3, 110.7, [260, 1023], [166, 498], blobsG.map(([x, y, r]) => [x, y, r]), blobsG.map((b) => b[3]), 0.85);
R(426.7, 565.3, 254.3, 110.7, "#777", 1);
cutsGx.forEach((x) => L(340 + x / 3, 565.3, 340 + x / 3, 676, "#777", 1));
L(426.7, 510 + cutGy / 3, 681, 510 + cutGy / 3, "#777", 1);

/* ---------- panel h ---------- */
const totals = [71000, 45000, 27000, 25000, 24500, 21000, 20000, 13000, 12500, 12000, 10000, 9000, 8000, 7500, 7000, 6500, 6000, 5500, 5000, 4800, 4500, 4200, 3800, 3500, 3300, 3000, 2800, 2600, 2400, 2200, 2100, 2000, 1800, 1700, 1600, 1500, 1400, 1300, 1200, 1100, 1000, 950, 900, 850, 800, 750, 700, 650, 600, 500, 450, 400, 350, 250, 150, 80];
const fracBlue = [15, 13, 9, 12, 12, 11, 9, 13, 11, 10, 12, 10, 9, 8, 24, 11, 9, 13, 15, 10, 12, 14, 17, 8, 6, 13, 11, 10, 13, 12, 8, 33, 10, 13, 10, 9, 11, 7, 6, 9, 10, 8, 7, 5, 9, 6, 7, 5, 6, 7, 4, 6, 5, 4, 5, 3];
const fracPale = [8, 9, 12, 8, 10, 9, 11, 8, 12, 9, 8, 10, 9, 7, 8, 10, 6, 9, 11, 8, 10, 7, 9, 12, 10, 8, 7, 12, 8, 6, 10, 7, 6, 9, 8, 7, 8, 10, 6, 5, 7, 9, 8, 6, 5, 8, 10, 6, 7, 5, 8, 5, 6, 8, 6, 5];
const fracGreen = [22, 25, 28, 30, 20, 26, 22, 30, 25, 28, 22, 24, 31, 25, 20, 28, 18, 33, 26, 24, 22, 32, 25, 30, 18, 30, 26, 22, 34, 30, 20, 18, 32, 25, 28, 38, 28, 24, 30, 36, 22, 33, 28, 40, 25, 32, 28, 45, 30, 38, 25, 42, 50, 32, 44, 35];
const fracOrange = [33, 30, 36, 30, 38, 32, 40, 30, 33, 36, 38, 35, 30, 42, 33, 34, 45, 28, 30, 40, 38, 30, 31, 32, 46, 32, 38, 36, 30, 38, 42, 28, 36, 38, 40, 32, 36, 40, 42, 36, 44, 36, 44, 35, 45, 40, 42, 30, 44, 36, 48, 35, 30, 42, 34, 48];
const fracSalmon = fracBlue.map((b, i) => 100 - b - fracPale[i] - fracGreen[i] - fracOrange[i]);
const overall = [13, 8, 24, 36, 19];
const hColors = ["#39b0e0", "#c7dca0", "#a9cf7d", "#f5a863", "#ee8058"];
const insetTotal = [1000, 1000, 1000, 1000, 1000, 1000, 1000, 1000, 1000, 1000, 1000, 1000, 1000, 1000, 1000, 1000, 1000, 1000, 1000, 1000, 1000, 1000, 1000, 1000, 1000, 1000, 1000, 1000, 980, 960, 900, 850, 850, 700, 700, 550, 500, 400, 300, 150];
const insetBlue = [600, 550, 700, 800, 900, 600, 850, 750, 500, 900, 700, 400, 450, 600, 300, 350, 700, 450, 300, 550, 250, 500, 150, 100, 300, 50, 100, 50, 50, 50, 40, 30, 50, 30, 20, 30, 20, 10, 10, 0];
const insetPale = [300, 350, 200, 100, 50, 250, 80, 150, 300, 50, 150, 350, 300, 200, 300, 300, 150, 250, 300, 200, 250, 200, 300, 300, 200, 250, 200, 150, 150, 100, 100, 80, 100, 50, 50, 40, 30, 30, 20, 10];
const insetGreen = [50, 50, 50, 50, 30, 100, 50, 50, 150, 30, 100, 200, 200, 150, 300, 250, 100, 250, 300, 200, 350, 250, 400, 400, 350, 450, 400, 350, 300, 300, 250, 240, 200, 150, 180, 130, 120, 100, 70, 40];
const insetOrange = insetTotal.map((t, i) => Math.max(0, t - insetBlue[i] - insetPale[i] - insetGreen[i]));
const stripH = ["#2a8a5a", "#3fae5a", "#1f9a7a", "#8aa850", "#5a8a3a", "#2a7a5a", "#e0386a", "#8a6030", "#2a9a80", "#5a6a90", "#c8a030", "#884a30", "#2a7060", "#30a868", "#a06ab0", "#4a6a80", "#d4386a", "#b8b8a0", "#2a8a6a", "#205a90", "#101848", "#2fae7a", "#7a3a70", "#e0a030", "#2a6a50", "#c848a0", "#2a7fb0", "#1f9a7a", "#4a7a40", "#3fa050", "#e06a3c", "#2a5a7a", "#7ab648", "#2a7a60", "#8a8a30", "#1a6a50", "#b04a90", "#1fa8c8", "#e8c030", "#3a3a80", "#2a8a60", "#d04a80", "#7a5030", "#2fae7a", "#a83a78", "#5a8a50", "#2a6a90", "#e0603c", "#1f8a7a", "#3a6a40", "#6a4a9c", "#2a9a5a", "#1a5a60", "#3a7a90", "#2a5a50", "#1f6a70"];

function stacked(l: number, plotL: number, plotT: number, plotW: number, plotH: number, series: number[][], colors: string[], yMax: number, yTicks: number[], fmt: (v: number) => string, fontSize: number, showY = true, bp = 0.82) {
  const pt = 3, pb = 2, W = plotL - l;
  plots.push({
    l, t: plotT - pt, w: W + plotW, h: plotH + pt + pb,
    cfg: {
      type: "bar",
      data: { labels: series[0].map((_, i) => String(i + 1)), datasets: series.map((d, i) => ({ data: d, backgroundColor: colors[i], barPercentage: bp, categoryPercentage: 1, borderWidth: 0 })) },
      options: {
        ...base, layout: { padding: { top: pt, bottom: pb, left: 0, right: 0 } },
        scales: {
          x: { stacked: true, grid: { display: false, drawTicks: false }, ticks: { display: false }, border: { color: "#333", width: 1.2 }, afterFit: (s: any) => { s.height = 0; } },
          y: { stacked: true, min: 0, max: yMax, display: showY, grid: { display: false, drawTicks: false }, border: { color: "#333", width: 1 }, afterBuildTicks: (s: any) => { s.ticks = yTicks.map((value) => ({ value })); }, afterFit: fitY(W), ticks: { padding: 1.5, font: { size: fontSize }, color: "#444", autoSkip: false, callback: fmt } },
        },
      },
    },
  });
}
const comma = (v: number) => Number(v).toLocaleString("en-US");
const byFrac = (f: number[]) => totals.map((t, i) => (t * f[i]) / 100);
stacked(480, 520, 688.3, 145, 41.7, [fracBlue, fracPale, fracGreen, fracOrange, fracSalmon].map(byFrac), hColors, 72000, [0, 60000], comma, 7.8);
stacked(560, 592.3, 691.7, 72.7, 20.6, [insetBlue, insetPale, insetGreen, insetOrange], ["#39b0e0", "#9cc7a0", "#a9cf7d", "#f5a863"], 1000, [0, 1000], (v) => String(v), 7.8, true, 1);
stacked(480, 520, 739.3, 144, 41.7, [fracBlue, fracPale, fracGreen, fracOrange, fracSalmon], hColors, 100, [0, 100], (v) => (Number(v) === 100 ? "100%" : "0"), 7.8);
stacked(671, 671, 739.3, 7.3, 41.7, overall.map((v) => [v]), hColors, 100, [], () => "", 5, false, 1);
strip(521, 789, 142, 6, [0, 56], spans(stripH.map((c) => [1, c])));

/* legend of panels e / f / h */
const legendNames = ["scRNA SMART", "scRNA 10X v3 A", "scRNA 10X v2 A", "snRNA SMART", "snRNA 10X v3 B", "snRNA 10X v3 A", "Open chromatin (snATAC-seq)", "DNA methylation (snmC-seq)"];
const legendColors = ["#e8303a", "#ef6a33", "#f5933a", "#5e8c3a", "#9cc55a", "#cfe0a0", "#1fa3dd", "#4fa9a4"];
plots.push({
  l: 340, t: 692.7, w: 136.7, h: 100.6,
  cfg: {
    type: "bar",
    data: { labels: legendNames, datasets: [{ data: legendNames.map(() => 1), backgroundColor: legendColors, barPercentage: 1, categoryPercentage: 0.97, borderWidth: 0 }] },
    options: {
      ...base, indexAxis: "y", layout: { padding: 0 },
      scales: {
        x: { min: 0, max: 1, display: false },
        y: { grid: { display: false, drawTicks: false }, border: { display: false }, afterFit: fitY(120), ticks: { padding: 2, font: { size: 7.8 }, color: "#555", autoSkip: false } },
      },
    },
  },
});
legendNames.forEach((_, i) => T(String(i + 1), 468.3, 699 + i * 12.58, 8, "c", 0, "#40505a"));

/* ---------- panels i, j: bars and cluster rows ---------- */
const cellsI = [80000, 450, 17000, 6000, 1000, 120000, 45000, 3000, 9000, 40000, 200, 32000, 1700, 2000, 600, 450, 25000, 22000, 40000, 900, 450, 50, 7000, 1300, 700, 1300, 1300, 1700, 115, 30, 3900, 3900, 3900, 2900, 1000, 13000, 6000, 450, 6000, 5000, 1100, 7000, 2000, 1000, 8000, 3900, 3400, 2200, 1300, 1900, 2500, 600, 10000, 4500, 3800, 2900];
const cellsJ = [100000, 200, 3700, 1600, 1000, 100000, 58000, 1230, 50000, 2400, 38000, 100, 30, 8400, 1230, 38000, 25000, 530, 7300, 2100, 9700, 5500, 9700, 7300, 7300, 4200, 810, 2400, 1600, 610, 2800, 180, 60, 3700, 3700, 3700, 3200, 3200, 700, 310, 2800, 1600, 1230, 1230, 1400, 3200, 2100, 1600, 930, 610, 7300, 100, 2400, 4800, 930, 350, 1850, 29000, 9700, 2400, 4800, 33000, 700, 4800, 1850, 700, 1400, 1850, 15000, 400, 530, 600];
function logBars(l: number, plotL: number, plotT: number, plotW: number, plotH: number, vals: number[], yMin: number, yMax: number) {
  const pt = 2, pb = 2, W = plotL - l;
  plots.push({
    l, t: plotT - pt, w: W + plotW, h: plotH + pt + pb,
    cfg: {
      type: "bar",
      data: { labels: vals.map((_, i) => String(i + 1)), datasets: [{ data: vals, backgroundColor: "#4a80bc", barPercentage: 0.84, categoryPercentage: 1, borderWidth: 0 }] },
      options: {
        ...base, layout: { padding: { top: pt, bottom: pb, left: 0, right: 0 } },
        scales: {
          x: { grid: { display: false, drawTicks: false }, ticks: { display: false }, border: { color: "#555", width: 0.8 }, afterFit: (s: any) => { s.height = 0; } },
          y: { type: "logarithmic", min: yMin, max: yMax, grid: { display: false, drawTicks: false }, border: { display: false }, afterBuildTicks: (s: any) => { s.ticks = [10, 1000, 100000].map((value) => ({ value })); }, afterFit: fitY(W), ticks: { padding: 1, font: { size: 6.6 }, color: "#444", autoSkip: false, callback: comma } },
        },
      },
    },
  });
}
logBars(0, 39.3, 855, 279, 26.3, cellsI, 4.5, 196000);
logBars(340, 375, 858, 304.3, 25.3, cellsJ, 5.2, 170000);

const l2ColorsI = ["#5f7a5c", "#5f7a5c", "#5f7a5c", "#5f7a5c", "#5f7a5c", "#1f9a5c", "#2bab68", "#52b56a", "#3fb050", "#46b457", "#1fae88", "#1db08c", "#3a47a0", "#2a9a60", "#5f8f70", "#5c8c6e", "#1f8a5a", "#1f905c", "#22855a", "#1f7f5a", "#23825f", "#187a6a", "#3a6f68", "#3c6c6e", "#3d6a72", "#1a8a78", "#15806e", "#0f5a50", "#34487c", "#343f78", "#3a8a70", "#3a8570", "#2070b8", "#2a78c0", "#e0503a", "#d02a80", "#d8386c", "#a85a30", "#e02a70", "#c89a3a", "#f09a30", "#c8a030", "#d0a030", "#e8e040", "#b04a9a", "#8a2a80", "#a8a0c8", "#e060a0", "#5f79b8", "#6a2a70", "#6a4a9a", "#5a3a8a", "#e08050", "#d87040", "#e85a80", "#d8a0c0"];
const l1I: [number, string, string][] = [[2, "#667f62", "L2/3 IT 1-3"], [3, "#667f62", "L2/3 IT 3-5"], [1, "#2a9a60", "L4/5 IT"], [2, "#45b060", "L4/5 IT 2"], [2, "#44b050", "L5/6"], [2, "#1fb08a", "L5/6 IT"], [1, "#3a4aa0", "L6 IT Car3"], [1, "#2a9a60", "L5 ET 1"], [2, "#5f8f70", "L5 ET 2"], [2, "#209060", "L6 CT Cpa6"], [4, "#2a8a5a", "L6 CT Cpa6, Cpa11"], [3, "#3a7a6a", "L6 CT Nxph4"], [2, "#1a8a7a", "L6b Shisa6"], [1, "#0f5a50", "L6b Nprl"], [2, "#3a4a80", "L6b Kcnip1"], [2, "#3a8a70", "L6 NP"], [2, "#2070b8", "L6 NP Trh"], [1, "#e0503a", "Pvalb Chrnb"], [2, "#d02a80", "Pvalb Reln, Cplx"], [1, "#e02a70", "Pvalb Il1"], [3, "#f49a3a", "Sst Chodl Cort"], [2, "#c8a030", "Sst Calb2 Pdlim"], [1, "#e8e040", "Sst Chodl"], [2, "#b04a9a", "Vip Chat, Crispld2"], [3, "#a8a0c8", "Vip Gpc3, Mc5r, Igfbp6"], [3, "#6a4a9a", "Sncg"], [1, "#d08050", "Lamp5 Ltk"], [1, "#e08a50", "Lamp5 Npy"], [2, "#e0507a", "Lamp5 Pdlim5, Pax6"]];
const l0I: [number, string, string][] = [[5, "#667f62", "L2/3 IT"], [3, "#45b060", "L4/5\nIT"], [5, "#45b060", "L5/6\nIT"], [3, "#5f8f70", "L5\nET"], [9, "#249060", "L6 CT"], [5, "#33407a", "L6b"], [4, "#2070b8", "NP"], [9, "#c8207a", "MGE"], [1, "#d8d030", ""], [12, "#9088c0", "CGE"]];
const l2NamesI = l1I.flatMap(([n, , s]) => Array.from({ length: n }, (_, k) => `${s.split(",")[0]} ${k + 1}`));
strip(39.3, 885, 279, 41, [0, 56], spans(l2ColorsI.map((c, i) => [1, c, l2NamesI[i], 2.7, -90, "#e8f0e8"])), 0.7);
strip(39.3, 926, 279, 37.3, [0, 56], spans(l1I.map(([n, c, s]) => [n, c, s, 2.8, -90, "#e8f0e8"])), 0.7);
strip(39.3, 963.3, 279, 18.4, [0, 56], spans(l0I.map(([n, c, s]) => [n, c, s, 7, 0, "#e4ece4"])), 0.8);
R(28.3, 885, 290, 96.7, "#444", 1.3);
L(28.3, 926, 39.3, 926, "#444", 1);
L(28.3, 963.3, 39.3, 963.3, "#444", 1);
L(39.3, 885, 39.3, 981.7, "#444", 1);
T("L2", 33.8, 905.7, 6.6, "c", 0, "#222", 700);
T("L1", 33.8, 944.3, 6.6, "c", 0, "#222", 700);
T("L0", 33.8, 972.7, 6.6, "c", 0, "#222", 700);

const l2ColorsJ = ["#1f9a4a", "#22a050", "#2aa552", "#30a858", "#1e9a50", "#2aa58c", "#2ba890", "#35a890", "#2fa58a", "#30aa90", "#8a8a3a", "#0f5a80", "#105c82", "#0f5a7a", "#0e5870", "#2a8a5a", "#2a8f5e", "#2a8a60", "#2a905c", "#2a8a58", "#5a7a3a", "#6a5aa0", "#2a6a70", "#2a7ab8", "#d8407a", "#e03a68", "#e0406a", "#e84a80", "#d83a78", "#7a2a2a", "#9a2a1a", "#e0b030", "#e8a838", "#d8a030", "#8a3a20", "#7a2a10", "#e8a030", "#f0e020", "#d89a30", "#a050a0", "#b04a90", "#a83a80", "#8a4aa0", "#8a8ac0", "#a0a0d0", "#6a3a90", "#e050a0", "#d84a90", "#5a3a7a", "#8a3a90", "#f0a080", "#f4a890", "#f09888", "#f0a0a0", "#f09090", "#e0a0c0", "#333322", "#6a6a50", "#2a4a3a", "#1a3a30", "#708070", "#5a8a7a", "#70a08a", "#8a8a70", "#5a4a3a", "#3a4a30", "#3a5a3a", "#4a6a4a", "#9a8a6a", "#3a5a4a", "#6a9a7a", "#8a9a8a"];
const l0J: [number, string][] = [[11, "IT"], [13, "non-IT"], [15, "MGE"], [17, "CGE"], [16, "Non-neuron"]];
strip(375.3, 885, 304, 35.7, [0, 72], spans(l2ColorsJ.map((c) => [1, c, "L2 type", 2.7, -90, "#e8f0e8"])), 0.6);
strip(375.3, 920.7, 304, 23.6, [0, 72], spans(l0J.map(([n, s]) => [n, "#ffffff", s, 7.2, 0, "#333"])), 0.8);
R(363.3, 885, 316, 59.3, "#444", 1.2);
L(375.3, 885, 375.3, 944.3, "#444", 1);
L(363.3, 920.7, 375.3, 920.7, "#444", 1);
T("L2", 369.3, 903, 6.4, "c", 0, "#333");
T("L0", 369.3, 931, 6.4, "c", 0, "#333");

/* ---------- remaining text ---------- */
[["a", 12, 7.3], ["b", 278.3, 8], ["c", 13.3, 259], ["d", 278.3, 258.3], ["e", 5, 525.7], ["f", 211.7, 525], ["g", 406.7, 526], ["h", 487, 694], ["i", 4.7, 826.7], ["j", 338, 826.7]].forEach(([s, x, y]: any) => T(s, x, y, 10.5, "c", 0, "#111", 700));
T("DNA methylation in gene bodies (normalized mCH rate)", 295.7, 4.5, 9.65, "l", 0, "#444");
T(<>Chromatin accessibility in gene bodies (snATAC-Seq, log<sub style={{ fontSize: 5.5, lineHeight: 0 }}>10</sub>(CPM + 1))</>, 295.7, 256, 9.7, "l", 0, "#333");
T("Cells", 461, 510, 8.2, "c", 0, "#333");
const sz = 9.4;
[["snmC-seq", 29, 20.7], ["9,876 cells", 29, 33.3], ["snATAC-seq", 28, 285], ["81,196 cells", 28, 295.7]].forEach(([s, x, y]: any) => T(s, x, y, sz, "l"));
[["Pvalb", 102, 17.3], ["L6b", 166, 21.7], ["NP", 232.3, 57.3], ["L4/5 IT", 80, 69.3], ["L6 CT", 238.3, 106.7], ["L6 IT", 44.3, 140.7], ["L2/3 IT", 156.7, 144], ["CGE", 231, 161], ["Sst", 70.7, 181.7], ["L5 PT", 110, 213.3], ["NonNeuronal", 190.7, 215.3], ["TSNE 1", 57.3, 226],
  ["OPC", 136, 284.3], ["CGE", 150, 295], ["Pvalb", 190, 290.7], ["Endo", 53.3, 311], ["Sst", 220.7, 322], ["L5 PT", 240, 338.7], ["NP", 38, 353.3], ["Oligo", 99.3, 344.7], ["L6 IT", 124, 383.3], ["L6 CT", 171, 381.7], ["Micro", 238.3, 417.3], ["L2/3 IT", 75.3, 427.7], ["Astro", 225, 452.3], ["L4/5 IT", 121.7, 467.7], ["SMC", 189.3, 483.3], ["TSNE 1", 52.3, 495.3]].forEach(([s, x, y]: any) => T(s, x, y, sz));
T("TSNE 2", 34.3, 206.7, sz, "c", -90);
T("TSNE 2", 30, 470, sz, "c", -90);
L(43.3, 201.7, 43.3, 218.3, "#444", 0.8); L(43.3, 218.3, 60.7, 218.3, "#444", 0.8);
L(35.7, 473.3, 35.7, 488.3, "#444", 0.8); L(35.7, 488.3, 52.7, 488.3, "#444", 0.8);
L(80, 75.7, 87.7, 83.3, "#222", 0.9); L(147.3, 301.7, 147.3, 320, "#222", 0.9);
const arrows = [[87.7, 83.3, 45], [147.3, 320, 90], [43.3, 201.7, -90], [60.7, 218.3, 0], [35.7, 473.3, -90], [52.7, 488.3, 0]];

const ts = 8.1;
T("Colored by single-dataset clusterings", 110, 526.7, ts); T("(SingleCellFusion)", 110, 538, ts); L(2, 544.3, 189, 544.3, "#444", 0.9);
T("Colored by single-dataset clusterings", 295, 528, ts); T("(LIGER)", 295, 538, ts); L(209, 544.3, 381.7, 544.3, "#444", 0.9);
T("Sub-population integrations (LIGER)", 553, 536, ts); L(427, 544, 682, 544, "#444", 0.9);
T("Excitatory", 476, 549.7, 6.8); L(427, 554.3, 524, 554.3, "#555", 0.8);
T("Inhibitory", 578, 549.7, 6.8); L(530, 554.3, 630.7, 554.3, "#555", 0.8);
T("Non-neuronal", 657.3, 554.3, 7.2);
[["IT", 455.7], ["non-IT", 505.7], ["MGE-derived", 552.7], ["CGE-derived", 605.7]].forEach(([s, x]: any) => T(s, x, 560.7, 7));
[["Colored by", 589], ["modality", 597.3], ["Colored by", 642.7], ["cell type", 650.7]].forEach(([s, y]: any) => T(s, 424, y, 7, "r"));
T("Transcriptome", 336, 721, 7.6, "c", -90, "#666"); T("(RNA-seq)", 345, 722, 7.6, "c", -90, "#666");
T("Epigenome", 335, 782, 7.6, "c", -90, "#666");
T("Cells", 362.7, 709, 7.6, "c", -90, "#666"); T("Nuclei", 362.7, 747, 7.6, "c", -90, "#666");
L(352, 692.7, 352, 766.7, "#222", 1); L(344.7, 772, 344.7, 788, "#222", 1); L(370.7, 693, 370.7, 727, "#222", 1); L(370.7, 734, 370.7, 763, "#222", 1);
T("Cells", 501, 712, 7.6, "c", -90, "#666");
T("SingleCellFusion", 613, 722, 7.8, "c", 0, "#333");
T("Fraction of", 490, 760, 7.6, "c", -90, "#666"); T("cells", 499.3, 760, 7.6, "c", -90, "#666");
T("56 Cell types (ranked by abundance)", 595, 800, 8.1, "c", 0, "#555"); T("(SingleCellFusion)", 595, 810, 8.1, "c", 0, "#555");
T("Overall", 674.3, 800, 7.6, "c", -90, "#666");
T("Integrated multimodal clusters", 152, 827.7, 8.2); T("(SingleCellFusion; same order of appearance as Fig. 2f)", 152, 837.3, 8.2); L(0, 844.3, 318, 844.3, "#444", 0.9);
T("Integrated multimodal clusters", 516.7, 827.7, 8.2); T("(LIGER)", 516.7, 837.3, 8.2); L(340, 844.3, 678, 844.3, "#444", 0.9);
T("Number of", 4, 866.7, 6.6, "c", -90); T("cells", 11.5, 866.7, 6.6, "c", -90);
T("Number of", 341, 866.7, 6.6, "c", -90); T("cells", 349, 866.7, 6.6, "c", -90);
T("Cluster level", 20.7, 935, 7.2, "c", -90, "#444");

function Plot({ p }: { p: P }) {
  const ref = useRef<HTMLCanvasElement>(null);
  useEffect(() => {
    const ch = new Chart(ref.current as any, p.cfg);
    return () => ch.destroy();
  }, []);
  return <canvas ref={ref} width={Math.round(p.w)} height={Math.round(p.h)} style={{ position: "absolute", left: p.l, top: p.t, width: Math.round(p.w), height: Math.round(p.h) }} />;
}

export default function App() {
  return (
    <div style={{ position: "absolute", left: 0, top: 0, width: 682, height: 982, overflow: "hidden", background: "#fff", fontFamily: FONT }}>
      {plots.map((p, i) => <Plot key={i} p={p} />)}
      <svg width={682} height={982} style={{ position: "absolute", left: 0, top: 0, pointerEvents: "none" }}>
        {rects.map((r, i) => <rect key={i} x={r.x} y={r.y} width={r.w} height={r.h} fill="none" stroke={r.color} strokeWidth={r.sw} />)}
        {lines.map((n, i) => <line key={i} x1={n.x1} y1={n.y1} x2={n.x2} y2={n.y2} stroke={n.color} strokeWidth={n.w} />)}
        {arrows.map(([x, y, a], i) => <polygon key={i} points="0,0 -3.5,-1.6 -3.5,1.6" fill="#222" transform={`translate(${x} ${y}) rotate(${a})`} />)}
      </svg>
      {texts.map((t, i) => {
        const ax = t.align === "l" ? "0%" : t.align === "r" ? "-100%" : "-50%";
        return (
          <div key={i} style={{ position: "absolute", left: 0, top: 0, whiteSpace: "nowrap", lineHeight: 1, fontSize: t.size, color: t.color, fontWeight: t.weight, transformOrigin: "0 0", transform: `translate(${t.x}px,${t.y}px) rotate(${t.rot}deg) translate(${ax},-50%)` }}>{t.s}</div>
        );
      })}
    </div>
  );
}
